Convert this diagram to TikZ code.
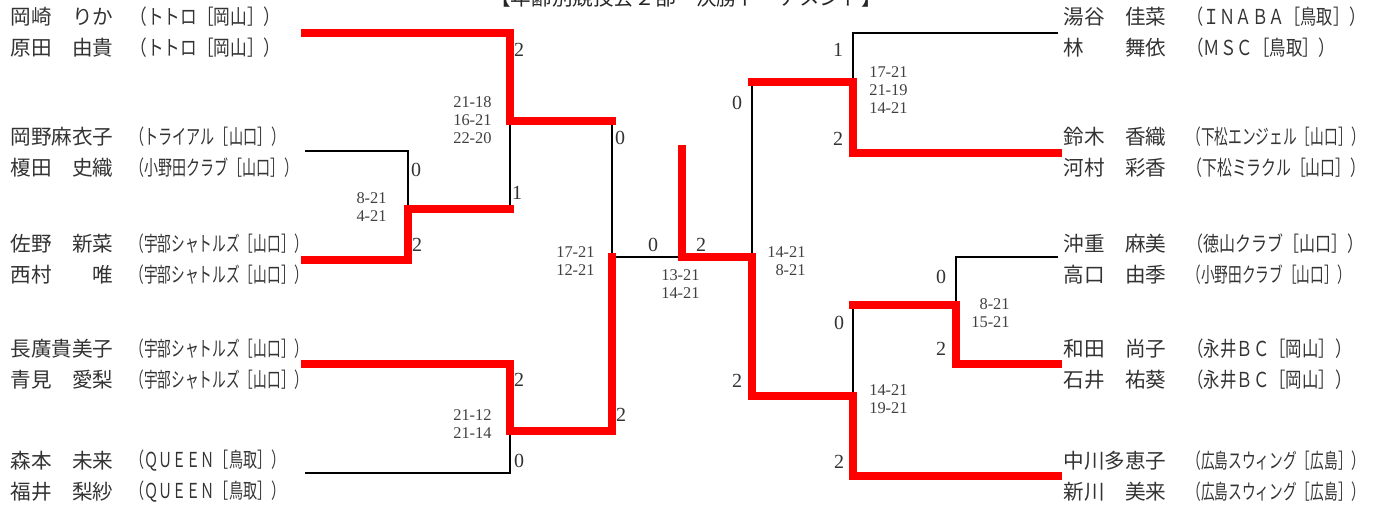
\documentclass[tikz,border=0pt]{standalone}
\usepackage{fontspec}
\usepackage{graphicx}
\newfontfamily\jp{Noto Sans CJK JP}
\newfontfamily\digits{Liberation Serif}
\usetikzlibrary{calc}
\newcommand{\squeeze}[2]{\resizebox{#1}{\height}{#2}}
\tikzset{
  player/.style ={anchor=west, inner sep=0pt, text=black!80,
                  font=\jp\fontsize{10.3}{12}\selectfont},
  team/.style   ={player},
  heading/.style={anchor=base, inner sep=0pt, text=black!85,
                  font=\jp\fontsize{10.3}{12}\selectfont},
  games/.style  ={inner sep=0pt, text=black!80, font=\digits\fontsize{10}{12}\selectfont},
  sets/.style   ={anchor=east, inner sep=0pt, text=black!75, align=right,
                  font=\digits\fontsize{8.2}{9}\selectfont},
  lost/.style   ={draw=black, line width=1pt},                              % loser side
  won/.style    ={draw=red, line width=4.2pt, line cap=rect, line join=miter}, % winner path
}

\begin{document}
\begin{tikzpicture}[x=0.5pt, y=-0.5pt]
\useasboundingbox (0,0) rectangle (1376,504);

% ---- title (cut at the top edge) ----
\begin{scope}
  \clip (0,0) rectangle (1376,504);
  \node[heading] (title) at (686,5) {【年齢別競技会２部・決勝トーナメント】};
\end{scope}

% ---- players, left half ----
\foreach \y/\nm/\cl/\cw [count=\i] in {
   17/岡崎　りか/（トトロ［岡山］）/75,
   48/原田　由貴/（トトロ［岡山］）/75,
  137/岡野麻衣子/（トライアル［山口］）/77.5,
  168/榎田　史織/（小野田クラブ［山口］）/84,
  244/佐野　新菜/（宇部シャトルズ［山口］）/89,
  275/西村　　唯/（宇部シャトルズ［山口］）/89,
  349/長廣貴美子/（宇部シャトルズ［山口］）/89,
  380/青見　愛梨/（宇部シャトルズ［山口］）/89,
  461/森本　未来/（ＱＵＥＥＮ［鳥取］）/77.5,
  492/福井　梨紗/（ＱＵＥＥＮ［鳥取］）/77.5}
{
  \node[player] (lp\i) at (10,\y) {\nm};
  \node[team] (lt\i) at (130,\y) {\squeeze{\cw pt}{\cl}};
}

% ---- players, right half ----
\foreach \y/\nm/\cl/\cw [count=\i] in {
   17/湯谷　佳菜/（ＩＮＡＢＡ［鳥取］）/89,
   48/林　　舞依/（ＭＳＣ［鳥取］）/74,
  137/鈴木　香織/（下松エンジェル［山口］）/89,
  168/河村　彩香/（下松ミラクル［山口］）/89,
  244/沖重　麻美/（徳山クラブ［山口］）/88,
  275/高口　由季/（小野田クラブ［山口］）/82,
  349/和田　尚子/（永井ＢＣ［岡山］）/82,
  380/石井　祐葵/（永井ＢＣ［岡山］）/82,
  461/中川多恵子/（広島スウィング［広島］）/89,
  492/新川　美来/（広島スウィング［広島］）/89}
{
  \node[player] (rp\i) at (1063,\y) {\nm};
  \node[team] (rt\i) at (1187,\y) {\squeeze{\cw pt}{\cl}};
}

% ---- entry points and match junctions ----
\coordinate (la) at (305,33);   \coordinate (ra) at (1058,33);
\coordinate (lb) at (305,151);  \coordinate (rb) at (1058,153);
\coordinate (lc) at (305,260);  \coordinate (rc) at (1058,257);
\coordinate (ld) at (305,364);  \coordinate (rd) at (1058,364);
\coordinate (le) at (305,473);  \coordinate (re) at (1058,476);

\coordinate (A) at (408,209);   \coordinate (RA) at (956,305);
\coordinate (B) at (510,121);   \coordinate (RB) at (853,82);
\coordinate (C) at (510,431);   \coordinate (RC) at (853,396);
\coordinate (D) at (612,257);   \coordinate (RD) at (752,257);
\coordinate (F) at (682,257);   \coordinate (T)  at (682,149);

% ---- losers ----
\draw[lost] (lb) -| (A);
\draw[lost] (B |- A) -- (B);
\draw[lost] (D |- B) -- (D) -- (F);
\draw[lost] (le) -| (C);
\draw[lost] (ra) -| (RB);
\draw[lost] (RD |- RB) -- (RD);
\draw[lost] (rc) -| (RA);
\draw[lost] (RC |- RA) -- (RC);

% ---- winners ----
\draw[won] (lc) -| (A) -- (B |- A);
\draw[won] (la) -| (B) -- (D |- B);
\draw[won] (ld) -| (C) -- (D |- C) -- (D);
\draw[won] (rb) -| (RB) -- (RD |- RB);
\draw[won] (rd) -| (RA) -- (RC |- RA);
\draw[won] (re) -| (RC) -- (RD |- RC) -- (RD) -- (F) -- (T);

% ---- games won ----
\foreach \x/\y/\g [count=\i] in {519/50/2, 517/193/1, 416/170/0, 417/245/2,
    620/138/0, 621/415/2, 519/380/2, 519/461/0, 653/245/0, 701/245/2,
    838/50/1, 838/139/2, 737/103/0, 737/381/2, 941/277/0, 941/349/2,
    839/323/0, 839/462/2}
  \node[games] (g\i) at (\x,\y) {\g};

% ---- set scores ----
\node[sets] (sA)  at (387,207)  {8-21\\4-21};
\node[sets] (sB)  at (492,120)  {21-18\\16-21\\22-20};
\node[sets] (sC)  at (492,424)  {21-12\\21-14};
\node[sets] (sD)  at (595,261)  {17-21\\12-21};
\node[sets] (sF)  at (700,284)  {13-21\\14-21};
\node[sets] (sRB) at (908,90)   {17-21\\21-19\\14-21};
\node[sets] (sRD) at (806,261)  {14-21\\8-21};
\node[sets] (sRA) at (1010,313) {8-21\\15-21};
\node[sets] (sRC) at (908,399)  {14-21\\19-21};

\end{tikzpicture}
\end{document}
